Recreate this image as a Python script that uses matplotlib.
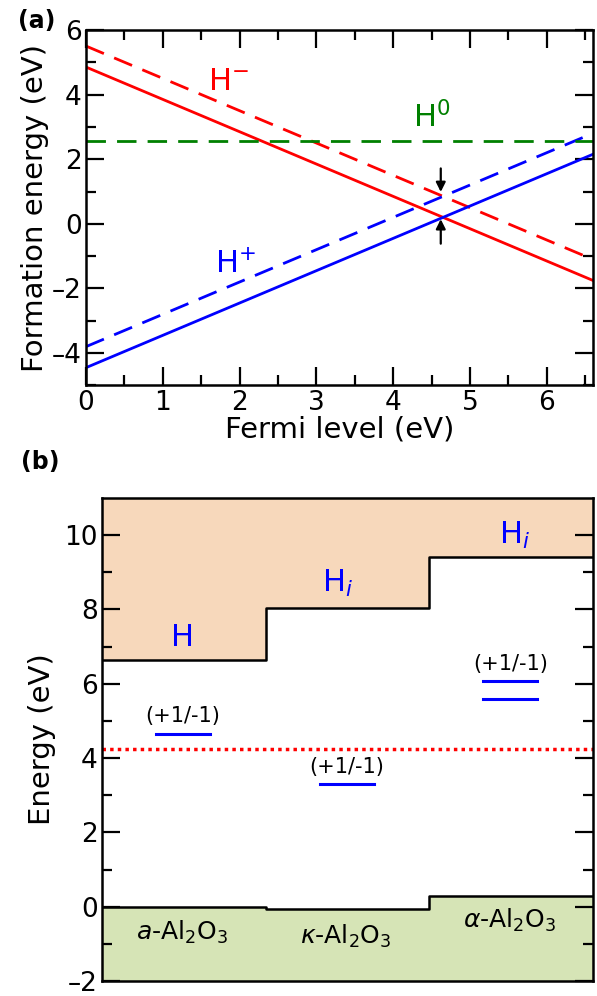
import numpy as np
import matplotlib
matplotlib.use('Agg')
import matplotlib.pyplot as plt

plt.rcParams['font.family'] = ['DejaVu Sans']
plt.rcParams['mathtext.fontset'] = 'dejavusans'

# panel (a): formation energy lines, E = E0 + q * Ef
fermi = np.array([0.0, 6.6])
h_minus_solid0 = 4.85
h_minus_dash0 = 5.5
h_plus_solid0 = -4.45
h_plus_dash0 = -3.8
h_zero = 2.55
e_cross = 4.62

# panel (b): band edges and transition levels
phases = ['$a$-Al$_2$O$_3$', '$\\kappa$-Al$_2$O$_3$', '$\\alpha$-Al$_2$O$_3$']
cbm = [6.65, 8.05, 9.4]
vbm = [0.0, -0.05, 0.3]
h_labels = ['H', 'H$_i$', 'H$_i$']
levels = [[4.65], [3.3], [6.07, 5.6]]
red_line = 4.25

fig = plt.figure(figsize=(5.97, 9.96), dpi=100)
ax1 = fig.add_axes([0.144, 0.613, 0.849, 0.357])
ax2 = fig.add_axes([0.171, 0.015, 0.822, 0.485])

lw = 2
dash = (0, (7, 4))
ax1.plot(fermi, h_minus_solid0 - fermi, color='red', lw=lw)
ax1.plot(fermi, h_minus_dash0 - fermi, color='red', lw=lw, ls=dash)
ax1.plot(fermi, h_plus_solid0 + fermi, color='blue', lw=lw)
ax1.plot(fermi, h_plus_dash0 + fermi, color='blue', lw=lw, ls=dash)
ax1.plot(fermi, [h_zero, h_zero], color='green', lw=lw, ls=dash)

top_cross = h_minus_dash0 - (h_minus_dash0 - h_plus_dash0) / 2
bot_cross = h_minus_solid0 - (h_minus_solid0 - h_plus_solid0) / 2
arrow = dict(arrowstyle='-|>', color='black', lw=1.6, mutation_scale=14)
ax1.annotate('', xy=(e_cross, top_cross + 0.05), xytext=(e_cross, 1.8), arrowprops=arrow)
ax1.annotate('', xy=(e_cross, bot_cross + 0.03), xytext=(e_cross, -0.7), arrowprops=arrow)

ax1.text(1.85, 4.4, 'H$^{-}$', color='red', fontsize=22, ha='center', va='center')
ax1.text(4.5, 3.3, 'H$^{0}$', color='green', fontsize=22, ha='center', va='center')
ax1.text(1.95, -1.25, 'H$^{+}$', color='blue', fontsize=22, ha='center', va='center')

ax1.set_xlim(0, 6.6)
ax1.set_ylim(-5, 6)
ax1.set_xticks(range(0, 7))
ax1.set_xticks(np.arange(0.5, 6.6, 1), minor=True)
ax1.set_yticks(range(-4, 7, 2))
ax1.set_yticks(range(-5, 6, 2), minor=True)
ax1.set_yticklabels(['\u20134', '\u20132', '0', '2', '4', '6'])
ax1.tick_params(which='both', direction='in', top=True, right=True, labelsize=19, width=1.6, pad=3)
ax1.tick_params(which='major', length=13)
ax1.tick_params(which='minor', length=7)
ax1.set_xlabel('Fermi level (eV)', fontsize=21, labelpad=0)
ax1.set_ylabel('Formation energy (eV)', fontsize=21, labelpad=2)
for s in ax1.spines.values():
    s.set_linewidth(1.8)

# panel (b)
xs = np.arange(len(phases) + 1)
ax2.fill_between(xs, cbm + [cbm[-1]], 11, step='post', color='#f7d8bb', lw=0)
ax2.fill_between(xs, vbm + [vbm[-1]], -2, step='post', color='#d6e4b6', lw=0)
ax2.step(xs, cbm + [cbm[-1]], where='post', color='black', lw=1.8)
ax2.step(xs, vbm + [vbm[-1]], where='post', color='black', lw=1.8)
ax2.axhline(red_line, color='red', ls=(0, (1, 1.2)), lw=2.5)

h_pos = [(0.49, 7.25), (1.44, 8.7), (2.52, 10.0)]
for lab, (x, y) in zip(h_labels, h_pos):
    ax2.text(x, y, lab, color='blue', fontsize=22, ha='center', va='center')

for i, lv in enumerate(levels):
    for y in lv:
        ax2.plot([i + 0.33, i + 0.66], [y, y], color='blue', lw=2.2)
    ax2.text(i + 0.495, max(lv) + 0.47, '(+1/-1)', fontsize=15, ha='center', va='center')

phase_y = [-0.7, -0.8, -0.38]
for i, (lab, y) in enumerate(zip(phases, phase_y)):
    ax2.text(i + 0.49, y, lab, fontsize=18, ha='center', va='center')

ax2.set_xlim(0, 3)
ax2.set_ylim(-2, 11)
ax2.set_xticks([])
ax2.set_yticks(range(-2, 11, 2))
ax2.set_yticks(range(-1, 11, 2), minor=True)
ax2.set_yticklabels(['\u20132', '0', '2', '4', '6', '8', '10'])
ax2.tick_params(which='both', direction='in', right=True, labelsize=19, width=1.6, pad=3)
ax2.tick_params(which='major', length=13)
ax2.tick_params(which='minor', length=7)
ax2.set_ylabel('Energy (eV)', fontsize=21, labelpad=6)
for s in ax2.spines.values():
    s.set_linewidth(1.8)

fig.text(0.030, 0.979, '(a)', fontsize=17, fontweight='bold', va='center')
fig.text(0.036, 0.536, '(b)', fontsize=17, fontweight='bold', va='center')

fig.savefig('out.png', dpi=100)
